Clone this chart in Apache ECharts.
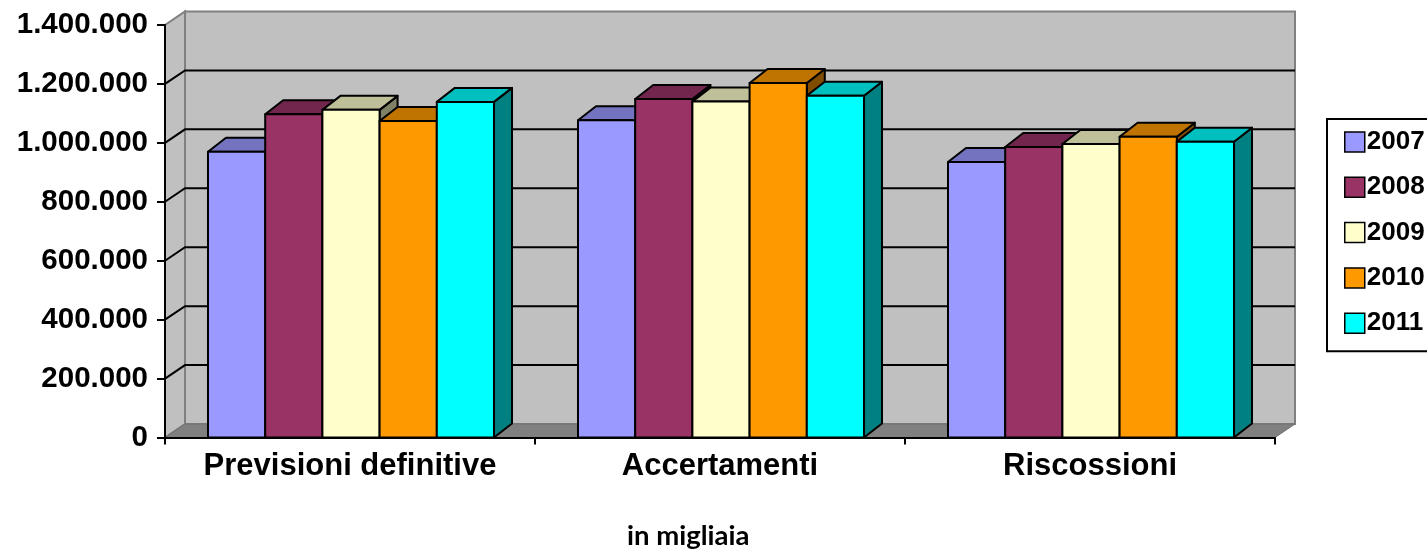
<!DOCTYPE html>
<html><head><meta charset="utf-8">
<script src="https://cdn.jsdelivr.net/npm/echarts@6/dist/echarts.min.js"></script>
<style>html,body{margin:0;padding:0;background:#fff}#c{width:1427px;height:553px}</style>
</head><body><div id="c"></div>
<script>
const categories = ['Previsioni definitive', 'Accertamenti', 'Riscossioni'];
const years = ['2007', '2008', '2009', '2010', '2011'];
const v2007 = [970000, 1077000, 935000];
const v2008 = [1097000, 1149000, 986000];
const v2009 = [1112000, 1140000, 996000];
const v2010 = [1074000, 1203000, 1021000];
const v2011 = [1139000, 1160000, 1004000];
const yTicks = [0, 200000, 400000, 600000, 800000, 1000000, 1200000, 1400000];
const colors = ['#9999FF', '#993366', '#FFFFCC', '#FF9900', '#00FFFF'];
const seriesValues = [v2007, v2008, v2009, v2010, v2011];

const BDX = 18, BDY = -14;   // bar depth
const WDX = 20, WDY = -13.5; // wall depth
const FONT = "'Liberation Sans', Arial, sans-serif";

function shade(hex, f) {
  const n = parseInt(hex.slice(1), 16);
  const r = Math.round(((n >> 16) & 255) * f), g = Math.round(((n >> 8) & 255) * f), b = Math.round((n & 255) * f);
  return 'rgb(' + r + ',' + g + ',' + b + ')';
}
function fmt(v) { return String(v).replace(/\B(?=(\d{3})+(?!\d))/g, '.'); }

function barRender(si) {
  return function (params, api) {
    const cat = api.value(0), val = api.value(1);
    const base = api.coord([cat, 0]);
    const top = api.coord([cat, val]);
    const band = api.size([1, 0])[0];
    const w = band * 0.1546;
    const x = base[0] - 2.5 * w + si * w + 1;
    const y0 = base[1], y1 = top[1];
    const c = colors[si];
    const st = { stroke: '#000', lineWidth: 2, lineJoin: 'round' };
    return {
      type: 'group', children: [
        { type: 'polygon', shape: { points: [[x + w, y1], [x + w + BDX, y1 + BDY], [x + w + BDX, y0 + BDY], [x + w, y0]] }, style: Object.assign({ fill: shade(c, 0.5) }, st) },
        { type: 'polygon', shape: { points: [[x, y1], [x + BDX, y1 + BDY], [x + w + BDX, y1 + BDY], [x + w, y1]] }, style: Object.assign({ fill: shade(c, 0.75) }, st) },
        { type: 'rect', shape: { x: x, y: y1, width: w, height: y0 - y1 }, style: Object.assign({ fill: c }, st) }
      ]
    };
  };
}

function wallRender(params, api) {
  const cs = params.coordSys;
  const L = cs.x, R = cs.x + cs.width, T = cs.y, B = cs.y + cs.height;
  const ch = [];
  ch.push({ type: 'rect', shape: { x: L + WDX, y: T + WDY, width: cs.width, height: cs.height }, style: { fill: '#C0C0C0', stroke: '#808080', lineWidth: 2 } });
  ch.push({ type: 'polygon', shape: { points: [[L, B], [L + WDX, B + WDY], [L + WDX, T + WDY], [L, T]] }, style: { fill: '#C0C0C0', stroke: '#808080', lineWidth: 2 } });
  ch.push({ type: 'polygon', shape: { points: [[L, B], [L + WDX, B + WDY], [R + WDX, B + WDY], [R, B]] }, style: { fill: '#808080', stroke: '#707070', lineWidth: 1 } });
  const yMax = yTicks[yTicks.length - 1];
  yTicks.forEach(function (t) {
    if (t <= 0 || t >= yMax) return;
    const y = api.coord([0, t])[1];
    ch.push({ type: 'polyline', shape: { points: [[L, y], [L + WDX, y + WDY], [R + WDX, y + WDY]] }, style: { stroke: '#000', lineWidth: 2, fill: null } });
  });
  return { type: 'group', children: ch };
}

const series = [{
  type: 'custom', name: 'wall', z: 1, silent: true,
  renderItem: wallRender, data: [[0, 0]], encode: { x: 0, y: 1 }
}];
years.forEach(function (y, i) {
  series.push({
    type: 'custom', name: y, z: 2,
    itemStyle: { color: colors[i], borderColor: '#000', borderWidth: 1.5 },
    renderItem: barRender(i),
    encode: { x: 0, y: 1 },
    data: seriesValues[i].map(function (v, k) { return [k, v]; })
  });
});

const chart = echarts.init(document.getElementById('c'), null, { renderer: 'canvas' });
chart.setOption({
  animation: false,
  backgroundColor: '#fff',
  grid: { left: 165, right: 152, top: 25, bottom: 115.5 },
  xAxis: {
    type: 'category', data: categories, z: 10,
    axisLine: { lineStyle: { color: '#000', width: 2 } },
    axisTick: { show: true, interval: 0, length: 7, lineStyle: { color: '#000', width: 2 } },
    axisLabel: { interval: 0, hideOverlap: false, color: '#000', fontFamily: FONT, fontWeight: 'bold', fontSize: 31, margin: 13 },
    splitLine: { show: false }
  },
  yAxis: {
    type: 'value', min: 0, max: 1400000, interval: 200000, z: 10,
    axisLine: { show: true, lineStyle: { color: '#000', width: 2 } },
    axisTick: { show: true, length: 8, lineStyle: { color: '#000', width: 2 } },
    axisLabel: { color: '#000', fontFamily: FONT, fontWeight: 'bold', fontSize: 29.5, margin: 17, formatter: fmt },
    splitLine: { show: false }
  },
  legend: {
    data: years, orient: 'vertical', left: 1327, top: 119,
    icon: 'rect', itemWidth: 20, itemHeight: 20, itemGap: 19.3,
    padding: [10, 30, 15, 17],
    borderColor: '#000', borderWidth: 2, backgroundColor: '#fff',
    itemStyle: { borderColor: '#000', borderWidth: 1.5 },
    textStyle: { color: '#000', fontFamily: FONT, fontWeight: 'bold', fontSize: 26, padding: [0, 0, 0, -3] }
  },
  graphic: [{
    type: 'text', left: 627, top: 522,
    style: { text: 'in migliaia', fill: '#000', font: "bold 27.5px Lato, 'Open Sans', sans-serif" }
  }],
  series: series
});
</script>
</body></html>
